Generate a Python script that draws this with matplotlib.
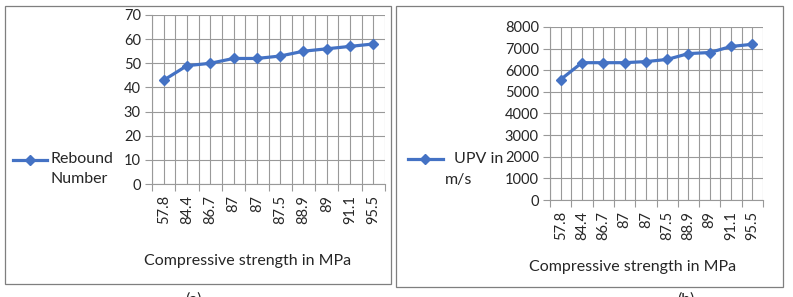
import matplotlib.pyplot as plt
import numpy as np
from matplotlib.patches import Rectangle
from matplotlib.lines import Line2D

# data
strength_labels = ['57.8', '84.4', '86.7', '87', '87', '87.5', '88.9', '89', '91.1', '95.5']
rebound_number = [43, 49, 50, 52, 52, 53, 55, 56, 57, 58]
upv_values = [5570, 6350, 6350, 6350, 6400, 6500, 6770, 6820, 7100, 7200]

plt.rcParams['font.family'] = ['Lato', 'DejaVu Sans']

W, H = 793, 297
BLUE = '#4472C4'
GRID = '#999999'
TXT = '#262626'
TICK_FS = 10.5
TEXT_FS = 11.5


def px_rect(x0, y0, x1, y1):
    # pixel box (top-left origin) -> figure fraction [l, b, w, h]
    return [x0 / W, 1 - y1 / H, (x1 - x0) / W, (y1 - y0) / H]


def style_axis(ax, values, ymax, ystep):
    n = len(values)
    x = np.arange(n)
    ax.plot(x, values, color=BLUE, lw=2.3, marker='D', ms=5.5, zorder=3)
    ax.set_xlim(-0.5, n - 0.5)
    ax.set_ylim(0, ymax)
    ax.set_yticks(np.arange(0, ymax + 1, ystep))
    ax.set_xticks(np.arange(-0.5, n, 1.0))
    ax.set_xticklabels([])
    ax.set_xticks(x, minor=True)
    ax.set_xticklabels(strength_labels, minor=True, rotation=90, fontsize=TICK_FS, color=TXT)
    ax.tick_params(axis='x', which='major', length=5, color=GRID, width=0.8)
    ax.tick_params(axis='x', which='minor', length=0, pad=8)
    ax.tick_params(axis='y', length=5, color=GRID, width=0.8, labelsize=TICK_FS,
                   labelcolor=TXT, pad=3)
    # gridlines at category centres and boundaries
    for gx in np.arange(-0.5, n, 0.5):
        ax.axvline(gx, color=GRID, lw=0.8, zorder=1)
    ax.grid(axis='y', color=GRID, lw=0.8, zorder=1)
    for s in ['top', 'right']:
        ax.spines[s].set_visible(False)
    for s in ['left', 'bottom']:
        ax.spines[s].set_color(GRID)
        ax.spines[s].set_linewidth(0.8)
    ax.set_facecolor('none')


fig = plt.figure(figsize=(W / 100, H / 100), dpi=100)

# panel frames
for x0, y0, x1, y1 in [(5, 6, 391, 284), (396, 6, 783, 287)]:
    l, b, w, h = px_rect(x0, y0, x1, y1)
    fig.add_artist(Rectangle((l, b), w, h, transform=fig.transFigure,
                             fill=False, ec='#7f7f7f', lw=0.9))

# (a) rebound number
ax1 = fig.add_axes(px_rect(152, 15, 385, 184))
style_axis(ax1, rebound_number, 70, 10)
fig.text(248 / W, 1 - 261 / H, 'Compressive strength in MPa', ha='center', va='center',
         fontsize=TEXT_FS, color=TXT)
fig.add_artist(Line2D([13 / W, 47 / W], [1 - 160 / H] * 2, color=BLUE, lw=2.3,
                      transform=fig.transFigure))
fig.add_artist(Line2D([30 / W], [1 - 160 / H], color=BLUE, marker='D', ms=5.5,
                      transform=fig.transFigure))
fig.text(50 / W, 1 - 159 / H, 'Rebound', va='center', fontsize=TEXT_FS, color=TXT)
fig.text(50 / W, 1 - 179 / H, 'Number', va='center', fontsize=TEXT_FS, color=TXT)

# (b) UPV
ax2 = fig.add_axes(px_rect(550, 27, 763, 200))
style_axis(ax2, upv_values, 8000, 1000)
fig.text(633 / W, 1 - 267 / H, 'Compressive strength in MPa', ha='center', va='center',
         fontsize=TEXT_FS, color=TXT)
fig.add_artist(Line2D([408 / W, 443 / W], [1 - 159 / H] * 2, color=BLUE, lw=2.3,
                      transform=fig.transFigure))
fig.add_artist(Line2D([425 / W], [1 - 159 / H], color=BLUE, marker='D', ms=5.5,
                      transform=fig.transFigure))
fig.text(454 / W, 1 - 159 / H, 'UPV in', va='center', fontsize=TEXT_FS, color=TXT)
fig.text(445 / W, 1 - 180 / H, 'm/s', va='center', fontsize=TEXT_FS, color=TXT)

# captions, cut off at the bottom edge
fig.text(193 / W, 1 - 292 / H, '(a)', ha='center', va='top', fontsize=TEXT_FS, color=TXT)
fig.text(686 / W, 1 - 292 / H, '(b)', ha='center', va='top', fontsize=TEXT_FS, color=TXT)

fig.savefig('out.png', dpi=100)
